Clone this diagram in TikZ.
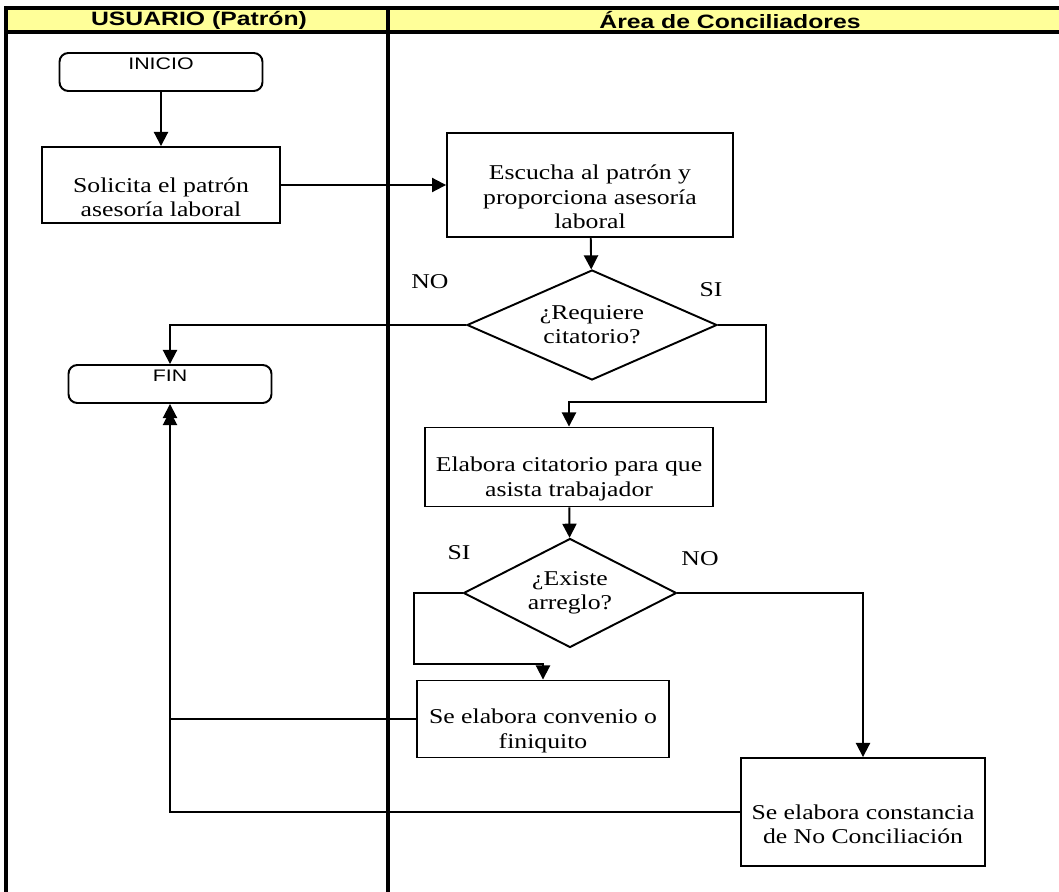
\documentclass[tikz,border=0pt]{standalone}
\usepackage{fontspec}
\setmainfont{Liberation Serif}[FakeStretch=1.22]
\newfontfamily\lanefont{Liberation Sans}[FakeStretch=1.28]
\usetikzlibrary{arrows.meta,shapes.geometric}
\definecolor{laneyellow}{RGB}{255,255,153}
\newcommand\dropped{\rule{0pt}{22pt}}

\begin{document}
\begin{tikzpicture}[
	x=0.02cm, y=-0.02cm,
	lane/.style={line width=1.8pt},
	header/.style={font=\lanefont\bfseries\fontsize{11}{13}\selectfont},
	terminal/.style={draw, line width=1.1pt, rounded corners=5pt, minimum width=4.06cm, minimum height=0.76cm, inner sep=1pt, text height=8.5pt, text depth=11pt, font=\lanefont\fontsize{9.5}{11}\selectfont},
	process/.style={draw, line width=1.1pt, align=center, inner sep=2pt, font=\fontsize{12}{13.8}\selectfont},
	decision/.style={draw, diamond, line width=1.1pt, align=center, inner sep=0pt, font=\fontsize{12}{13.8}\selectfont},
	answer/.style={font=\fontsize{12}{14}\selectfont},
	flow/.style={-{Triangle[width=8pt,length=8pt]}, line width=1.1pt},
]
	\useasboundingbox (0,0) rectangle (1059,892);

	\fill[laneyellow] (6,8) rectangle (1059,32);
	\draw[lane] (1059,8) -- (6,8) -- (6,892);
	\draw[lane] (6,32) -- (1059,32);
	\draw[lane] (388,8) -- (388,892);
	\node[header] (usuario) at (199,20) {USUARIO (Patrón)};
	\node[header] (area) at (730,20) {Área de Conciliadores};

	\node[terminal] (inicio) at (161,72) {INICIO};
	\node[process, minimum width=4.76cm, minimum height=1.52cm] (solicita) at (161,185) {\dropped Solicita el patrón\\asesoría laboral};
	\node[process, minimum width=5.72cm, minimum height=2.08cm] (escucha) at (590,185) {\dropped Escucha al patrón y\\proporciona asesoría\\laboral};
	\node[decision, aspect=2.27, minimum width=5cm, minimum height=2.2cm] (requiere) at (592,325) {¿Requiere\\citatorio?};
	\node[terminal] (fin) at (170,384) {FIN};
	\node[process, minimum width=5.76cm, minimum height=1.58cm] (citatorio) at (569,467) {\dropped Elabora citatorio para que\\asista trabajador};
	\node[decision, aspect=2, minimum width=4.26cm, minimum height=2.18cm] (arreglo) at (570,593) {¿Existe\\arreglo?};
	\node[process, minimum width=5.04cm, minimum height=1.54cm] (convenio) at (543,719) {\dropped Se elabora convenio o\\finiquito};
	\node[process, minimum width=4.88cm, minimum height=2.16cm] (constancia) at (863,812) {\dropped Se elabora constancia\\de No Conciliación};

	\node[answer] (no1) at (430,282) {NO};
	\node[answer] (si1) at (711,290) {SI};
	\node[answer] (si2) at (459,553) {SI};
	\node[answer] (no2) at (700,559) {NO};

	\draw[flow] (inicio) -- (solicita);
	\draw[flow] (solicita) -- (escucha);
	\draw[flow] (escucha) -- (requiere);
	\draw[flow] (requiere.west) -| (fin.north);
	\draw[flow] (requiere.east) -- ++(48,0) |- ([yshift=0.5cm]citatorio.north) -- (citatorio.north);
	\draw[flow] (citatorio) -- (arreglo);
	\draw[flow] (arreglo.west) -- ++(-49,0) |- ([yshift=0.32cm]convenio.north) -- (convenio.north);
	\draw[flow] (arreglo.east) -| (constancia.north);
	\draw[flow, shorten >=4pt] (convenio.west) -| (fin.south);
	\draw[flow] (constancia.west) -| (fin.south);
\end{tikzpicture}
\end{document}
